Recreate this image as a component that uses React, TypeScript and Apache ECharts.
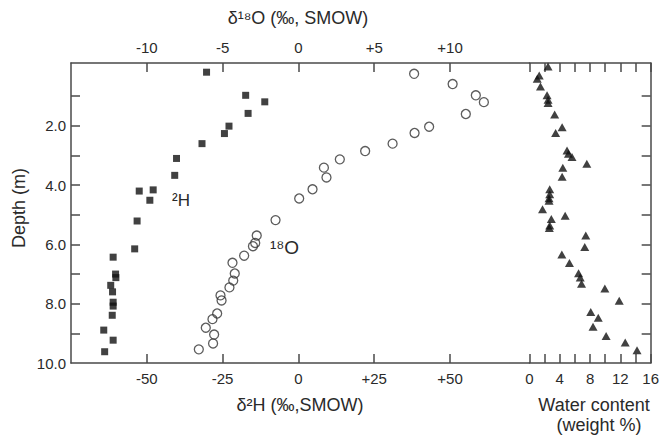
import React, { useEffect, useRef } from "react";
import * as echarts from "echarts";

// ---- tick values / labels ----
const depthTicks = [1, 2, 3, 4, 5, 6, 7, 8, 9];
const depthLabels = [2, 4, 6, 8, 10];
const h2Ticks = [-50, -25, 0, 25, 50];
const o18Ticks = [-10, -5, 0, 5, 10];
const waterTicks = [0, 2, 4, 6, 8, 10, 12, 14, 16];
const waterLabels = [0, 4, 8, 12, 16];

// ---- δ2H (filled squares) ----
const h2Depth = [0.19, 0.97, 1.19, 1.58, 2.01, 2.26, 2.6, 3.1, 3.67, 4.16, 4.2, 4.51, 5.21, 6.15, 6.43, 7.0, 7.12, 7.38, 7.6, 7.95, 8.08, 8.39, 8.89, 9.23, 9.62];
const h2Value = [-30.3, -17.4, -11.1, -16.6, -22.9, -24.4, -31.8, -40.2, -40.8, -47.9, -52.5, -49.0, -53.2, -54.0, -61.1, -60.3, -60.2, -61.9, -61.3, -61.1, -61.1, -61.4, -64.2, -61.1, -63.9];

// ---- δ18O (open circles) ----
const o18Depth = [0.245, 0.59, 0.97, 1.2, 1.6, 2.03, 2.24, 2.6, 2.85, 3.13, 3.41, 3.74, 4.14, 4.45, 5.18, 5.7, 5.95, 6.06, 6.38, 6.62, 6.98, 7.22, 7.45, 7.72, 7.89, 8.33, 8.52, 8.81, 9.04, 9.34, 9.54];
const o18Value = [7.63, 10.17, 11.7, 12.23, 11.04, 8.62, 7.66, 6.21, 4.4, 2.73, 1.68, 1.85, 0.93, 0.05, -1.51, -2.75, -2.85, -3.0, -3.58, -4.35, -4.2, -4.3, -4.55, -5.14, -5.07, -5.36, -5.67, -6.11, -5.56, -5.63, -6.57];

// ---- water content (filled triangles) ----
const waterDepth = [0.0, 0.3, 0.41, 0.67, 0.97, 1.12, 1.23, 1.62, 2.05, 2.24, 2.83, 2.94, 3.05, 3.28, 3.41, 3.72, 4.14, 4.31, 4.44, 4.53, 4.81, 5.03, 5.14, 5.36, 5.45, 5.7, 6.09, 6.34, 6.63, 6.97, 7.12, 7.33, 7.49, 7.9, 8.28, 8.47, 8.78, 9.09, 9.31, 9.57];
const waterValue = [2.45, 1.28, 1.02, 1.45, 2.32, 2.45, 2.45, 3.32, 4.31, 3.45, 4.96, 5.14, 5.61, 7.57, 4.4, 4.31, 2.67, 2.67, 2.58, 2.58, 1.72, 4.71, 2.88, 2.67, 2.62, 7.43, 7.3, 4.27, 5.27, 6.48, 6.7, 6.87, 9.95, 11.85, 8.09, 9.08, 8.39, 10.12, 12.64, 14.2];

const FONT = "'Liberation Sans', Arial, Helvetica, sans-serif";
const TEXT = "#2a2a2a";
const LINE = { color: "#4a4a4a", width: 1.5 };

const signed = (v: number) => (v > 0 ? "+" + v : String(v));

function App() {
  const ref = useRef<HTMLDivElement>(null);
  useEffect(() => {
    if (!ref.current) return;
    const chart = echarts.init(ref.current, undefined, { renderer: "svg" });
    const zip = (xs: number[], ys: number[]) => xs.map((x, i) => [x, ys[i]]);
    const tickBase = { inside: true, length: 9, lineStyle: LINE };
    const labelBase = { color: TEXT, fontFamily: FONT, fontSize: 15 };
    const yBase = { type: "value", inverse: true, min: -0.12, max: 10, splitLine: { show: false } };
    chart.setOption({
      animation: false,
      backgroundColor: "#ffffff",
      grid: [
        { left: 71, top: 63, width: 458.5, height: 300 },
        { left: 529.5, top: 63, width: 123.5, height: 300 },
      ],
      xAxis: [
        {
          type: "value", gridIndex: 0, position: "bottom", min: -75, max: 76.2,
          axisLine: { show: true, onZero: false, lineStyle: LINE },
          axisTick: { ...tickBase, customValues: h2Ticks },
          axisLabel: { ...labelBase, customValues: h2Ticks, margin: 8, formatter: (v: number) => signed(v) },
          splitLine: { show: false },
        },
        {
          type: "value", gridIndex: 0, position: "top", min: -15, max: 15.24,
          axisLine: { show: true, onZero: false, lineStyle: LINE },
          axisTick: { ...tickBase, customValues: o18Ticks },
          axisLabel: { ...labelBase, customValues: o18Ticks, margin: 8, formatter: (v: number) => signed(v) },
          splitLine: { show: false },
        },
        {
          type: "value", gridIndex: 1, position: "bottom", min: 0, max: 16,
          axisLine: { show: true, onZero: false, lineStyle: LINE },
          axisTick: { ...tickBase, customValues: waterTicks },
          axisLabel: { ...labelBase, customValues: waterLabels, margin: 8 },
          splitLine: { show: false },
        },
        {
          type: "value", gridIndex: 1, position: "top", min: 0, max: 16,
          axisLine: { show: true, onZero: false, lineStyle: LINE },
          axisTick: { ...tickBase, customValues: waterTicks },
          axisLabel: { show: false },
          splitLine: { show: false },
        },
      ],
      yAxis: [
        {
          ...yBase, gridIndex: 0, position: "left",
          axisLine: { show: true, onZero: false, lineStyle: LINE },
          axisTick: { ...tickBase, customValues: depthTicks },
          axisLabel: { ...labelBase, customValues: depthLabels, margin: 5, formatter: (v: number) => v.toFixed(1) },
        },
        {
          ...yBase, gridIndex: 1, position: "right",
          axisLine: { show: true, onZero: false, lineStyle: LINE },
          axisTick: { ...tickBase, customValues: depthTicks },
          axisLabel: { show: false },
        },
      ],
      series: [
        {
          name: "δ2H", type: "scatter", xAxisIndex: 0, yAxisIndex: 0, clip: false,
          symbol: "rect", symbolSize: 7,
          itemStyle: { color: "#111111" },
          data: zip(h2Value, h2Depth),
        },
        {
          name: "δ18O", type: "scatter", xAxisIndex: 1, yAxisIndex: 0, clip: false,
          symbol: "circle", symbolSize: 9,
          itemStyle: { color: "rgba(255,255,255,0)", borderColor: "#333333", borderWidth: 1.3 },
          data: zip(o18Value, o18Depth),
        },
        {
          name: "Water content", type: "scatter", xAxisIndex: 2, yAxisIndex: 1, clip: false,
          symbol: "triangle", symbolSize: [9, 8],
          itemStyle: { color: "#111111" },
          data: zip(waterValue, waterDepth),
        },
      ],
      graphic: [
        { type: "text", x: 298, y: 18, style: { text: "δ¹⁸O (‰, SMOW)", fill: TEXT, font: `18px ${FONT}`, textAlign: "center", textVerticalAlign: "middle" } },
        { type: "text", x: 300, y: 405, style: { text: "δ²H (‰,SMOW)", fill: TEXT, font: `18px ${FONT}`, textAlign: "center", textVerticalAlign: "middle" } },
        { type: "text", x: 594, y: 405, style: { text: "Water content", fill: TEXT, font: `18px ${FONT}`, textAlign: "center", textVerticalAlign: "middle" } },
        { type: "text", x: 599, y: 425, style: { text: "(weight %)", fill: TEXT, font: `18px ${FONT}`, textAlign: "center", textVerticalAlign: "middle" } },
        { type: "text", x: 19, y: 208, rotation: Math.PI / 2, style: { text: "Depth (m)", fill: TEXT, font: `18px ${FONT}`, textAlign: "center", textVerticalAlign: "middle" } },
        { type: "text", x: 172, y: 200, style: { text: "²H", fill: TEXT, font: `17px ${FONT}`, textAlign: "left", textVerticalAlign: "middle" } },
        { type: "text", x: 270, y: 247, style: { text: "¹⁸O", fill: TEXT, font: `19px ${FONT}`, textAlign: "left", textVerticalAlign: "middle" } },
      ],
    });
    return () => chart.dispose();
  }, []);
  return <div ref={ref} style={{ position: "fixed", left: 0, top: 0, width: 662, height: 437 }} />;
}

export default App;
